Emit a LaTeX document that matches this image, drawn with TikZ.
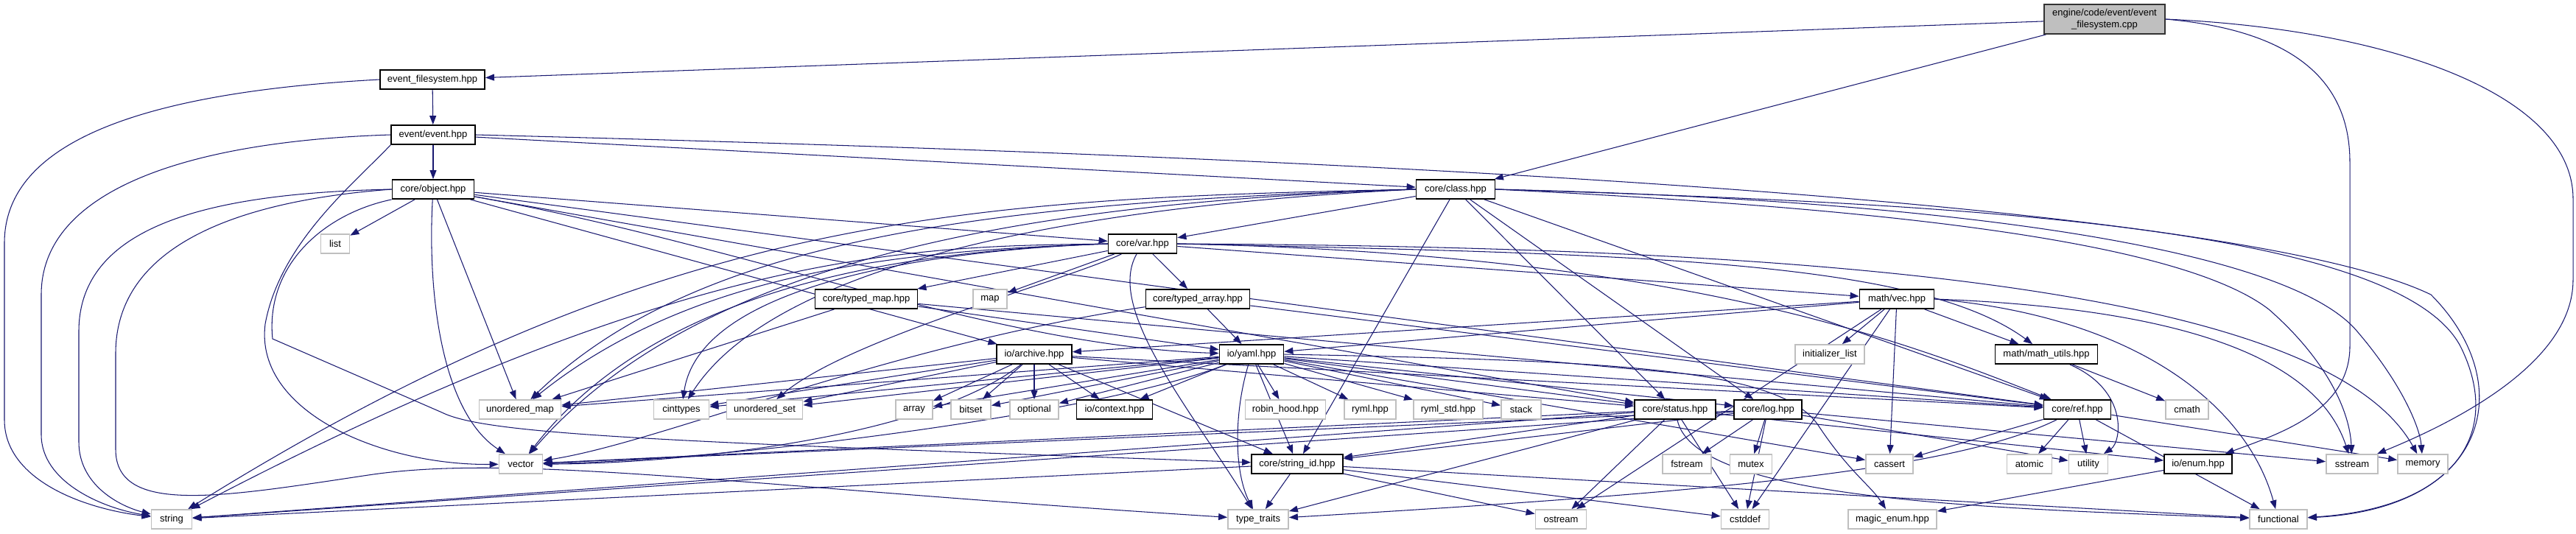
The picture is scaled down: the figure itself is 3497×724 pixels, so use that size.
\documentclass[tikz,border=0pt]{standalone}
\usepackage{fontspec}
\setmainfont{Liberation Sans}
\usetikzlibrary{arrows.meta}
\definecolor{edgeblue}{HTML}{191970}
\definecolor{sysgray}{HTML}{BFBFBF}
\pgfdeclarelayer{bg}
\pgfsetlayers{bg,main}
\begin{document}
\begin{tikzpicture}[x=1pt,y=-1pt,
  box/.style={fill=white, inner sep=0pt, minimum height=26pt, font=\fontsize{13}{15.5}\selectfont},
  proj/.style={box, draw=black, line width=1.8pt},
  sys/.style={box, draw=sysgray, line width=1.8pt},
  root/.style={box, draw=black!80, fill=sysgray, line width=1.8pt, minimum height=40pt, align=center},
  dep/.style={draw=edgeblue, line width=1.05pt, -{Triangle[length=12pt,width=9pt]}}]
\useasboundingbox (0,0) rectangle (3497,724);
% row 0
\node[root, minimum width=164pt] (cpp) at (2857,26) {engine/code/event/event\\\_filesystem.cpp};
% row 1-3
\node[proj, minimum width=142pt] (efs) at (587,108) {event\_filesystem.hpp};
\node[proj, minimum width=114pt] (event) at (588,183) {event/event.hpp};
\node[proj, minimum width=111pt] (object) at (588,257) {core/object.hpp};
\node[proj, minimum width=107pt] (class) at (1976,257) {core/class.hpp};
% row 4
\node[sys, minimum width=39pt] (list) at (455,331) {list};
\node[proj, minimum width=93pt] (var) at (1551,331) {core/var.hpp};
% row 5
\node[proj, minimum width=139pt] (tmap) at (1176,406) {core/typed\_map.hpp};
\node[sys, minimum width=46pt] (map) at (1344,406) {map};
\node[proj, minimum width=141pt] (tarr) at (1626,406) {core/typed\_array.hpp};
\node[proj, minimum width=101pt] (vec) at (2575,406) {math/vec.hpp};
% row 6
\node[proj, minimum width=102pt] (archive) at (1404,481) {io/archive.hpp};
\node[proj, minimum width=87pt] (yaml) at (1699,481) {io/yaml.hpp};
\node[sys, minimum width=94pt] (initlist) at (2484,481) {initializer\_list};
\node[proj, minimum width=139pt] (mathutils) at (2778,481) {math/math\_utils.hpp};
% row 7
\node[sys, minimum width=111pt] (umap) at (706,556) {unordered\_map};
\node[sys, minimum width=75pt] (cinttypes) at (925,556) {cinttypes};
\node[sys, minimum width=103pt] (uset) at (1038,556) {unordered\_set};
\node[sys, minimum width=50pt] (array) at (1241,556) {array};
\node[sys, minimum width=54pt] (bitset) at (1318,556) {bitset};
\node[sys, minimum width=66pt] (optional) at (1404,556) {optional};
\node[proj, minimum width=103pt] (context) at (1513,556) {io/context.hpp};
\node[sys, minimum width=109pt] (robin) at (1745,556) {robin\_hood.hpp};
\node[sys, minimum width=70pt] (ryml) at (1860,556) {ryml.hpp};
\node[sys, minimum width=94pt] (rymlstd) at (1966,556) {ryml\_std.hpp};
\node[sys, minimum width=54pt] (stack) at (2065,556) {stack};
\node[proj, minimum width=110pt] (status) at (2274,556) {core/status.hpp};
\node[proj, minimum width=92pt] (log) at (2400,556) {core/log.hpp};
\node[proj, minimum width=91pt] (ref) at (2820,556) {core/ref.hpp};
\node[sys, minimum width=58pt] (cmath) at (2969,556) {cmath};
% row 8
\node[sys, minimum width=59pt] (vector) at (707,630) {vector};
\node[proj, minimum width=124pt] (strid) at (1761,630) {core/string\_id.hpp};
\node[sys, minimum width=66pt] (fstream) at (2290,630) {fstream};
\node[sys, minimum width=57pt] (mutex) at (2377,630) {mutex};
\node[sys, minimum width=64pt] (cassert) at (2565,630) {cassert};
\node[sys, minimum width=61pt] (atomic) at (2755,630) {atomic};
\node[sys, minimum width=53pt] (utility) at (2835,630) {utility};
\node[proj, minimum width=92pt] (ioenum) at (2984,630) {io/enum.hpp};
\node[sys, minimum width=70pt] (sstream) at (3193,630) {sstream};
\node[sys, minimum width=68pt] (memory) at (3289,630) {memory};
% row 9
\node[sys, minimum width=55pt] (string) at (233,705) {string};
\node[sys, minimum width=82pt] (typetraits) at (1708,705) {type\_traits};
\node[sys, minimum width=69pt] (ostream) at (2119,705) {ostream};
\node[sys, minimum width=65pt] (cstddef) at (2369,705) {cstddef};
\node[sys, minimum width=120pt] (magic) at (2569,705) {magic\_enum.hpp};
\node[sys, minimum width=78pt] (functional) at (3093,705) {functional};

\begin{pgfonlayer}{bg}
% cpp
\draw[dep] (cpp) -- (efs);
\draw[dep] (cpp) -- (class);
\draw[dep] (cpp.east) .. controls (3100,40) and (3190,100) .. (3190,220) -- (3190,470) .. controls (3190,560) and (3090,590) .. (ioenum);
\draw[dep] (cpp.east) .. controls (3250,40) and (3493,130) .. (3493,270) -- (3493,380) .. controls (3493,490) and (3340,570) .. (sstream);
% efs
\draw[dep] (efs) -- (event);
\draw[dep] (efs.west) .. controls (200,125) and (6,190) .. (6,330) -- (6,570) .. controls (6,650) and (110,690) .. (string);
% event
\draw[dep] (event) -- (object);
\draw[dep] (event) -- (class);
\draw[dep] (event.west) .. controls (250,192) and (56,260) .. (56,400) -- (56,590) .. controls (56,655) and (140,690) .. (string);
\draw[dep] (event.south west) .. controls (480,250) and (380,330) .. (360,440) .. controls (345,560) and (520,632) .. (vector);
\draw[dep] (event.east) .. controls (1500,205) and (3000,255) .. (3300,400) .. controls (3420,520) and (3380,690) .. (functional);
% object
\draw[dep] (object) -- (list);
\draw[dep] (object.west) .. controls (300,262) and (107,300) .. (107,450) -- (107,600) .. controls (107,660) and (165,688) .. (string);
\draw[dep] (object.west) .. controls (330,272) and (157,330) .. (157,480) -- (157,610) .. controls (157,700) and (300,675) .. (500,645) .. controls (700,615) and (1000,660) .. (typetraits);
\draw[dep] (object) .. controls (580,400) and (600,560) .. (vector);
\draw[dep] (object) -- (umap);
\draw[dep] (object.south west) .. controls (440,290) and (360,360) .. (370,460) -- (600,560) .. controls (660,590) and (900,600) .. (strid);
\draw[dep] (object) -- (var);
\draw[dep] (object) -- (archive);
\draw[dep] (object) .. controls (1000,330) and (1350,470) .. (yaml);
\draw[dep] (object) -- (status);
\draw[dep] (object) -- (ref);
% class
\draw[dep] (class) -- (var);
\draw[dep] (class.west) .. controls (1300,270) and (900,290) .. (string);
\draw[dep] (class.west) .. controls (1350,275) and (950,320) .. (umap);
\draw[dep] (class.west) .. controls (1400,275) and (950,350) .. (vector);
\draw[dep] (class.west) .. controls (1450,280) and (1050,360) .. (cinttypes);
\draw[dep] (class) -- (status);
\draw[dep] (class) -- (log);
\draw[dep] (class) -- (ref);
\draw[dep] (class) -- (strid);
\draw[dep] (class.east) .. controls (2600,275) and (3250,300) .. (3340,470) .. controls (3400,590) and (3330,690) .. (functional);
\draw[dep] (class.east) .. controls (2600,270) and (3100,330) .. (3200,450) .. controls (3260,520) and (3285,580) .. (memory);
\draw[dep] (class.east) .. controls (2500,280) and (2950,320) .. (3080,420) .. controls (3160,490) and (3190,560) .. (sstream);
% var
\draw[dep] (var) -- (tmap);
\draw[dep] (var) -- (map);
\draw[dep] (var) -- (tarr);
\draw[dep] (var) -- (vec);
\draw[dep] (var.west) .. controls (1250,335) and (950,330) .. (string);
\draw[dep] (var.west) .. controls (1250,340) and (950,360) .. (umap);
\draw[dep] (var.west) .. controls (1250,340) and (900,380) .. (vector);
\draw[dep] (var.west) .. controls (1250,340) and (950,390) .. (cinttypes);
\draw[dep] (var) .. controls (1450,380) and (1150,460) .. (uset);
\draw[dep] (var) .. controls (1500,420) and (1620,560) .. (typetraits);
\draw[dep] (var.east) .. controls (2200,345) and (2600,350) .. (mathutils);
\draw[dep] (var.east) .. controls (2300,345) and (2600,470) .. (ref);
\draw[dep] (var.east) .. controls (2400,335) and (3150,380) .. (memory);
% typed map / array
\draw[dep] (tmap) -- (yaml);
\draw[dep] (tmap) -- (ref);
\draw[dep] (tmap) -- (umap);
\draw[dep] (tarr) -- (yaml);
\draw[dep] (tarr) -- (ref);
\draw[dep] (tarr) .. controls (1200,470) and (900,600) .. (vector);
% vec
\draw[dep] (vec) -- (initlist);
\draw[dep] (vec) -- (mathutils);
\draw[dep] (vec) -- (archive);
\draw[dep] (vec) -- (yaml);
\draw[dep] (vec) -- (cassert);
\draw[dep] (vec) -- (ostream);
\draw[dep] (vec) -- (cstddef);
\draw[dep] (vec.east) .. controls (2900,430) and (3050,550) .. (functional);
\draw[dep] (vec.east) .. controls (3000,420) and (3150,500) .. (sstream);
% math utils
\draw[dep] (mathutils) -- (cmath);
\draw[dep] (mathutils) .. controls (2890,530) and (2880,600) .. (utility);
% archive
\draw[dep] (archive) -- (umap);
\draw[dep] (archive) -- (cinttypes);
\draw[dep] (archive) -- (uset);
\draw[dep] (archive) -- (array);
\draw[dep] (archive) -- (bitset);
\draw[dep] (archive) -- (optional);
\draw[dep] (archive) -- (context);
\draw[dep] (archive) .. controls (1250,600) and (900,630) .. (vector);
\draw[dep] (archive) -- (strid);
\draw[dep] (archive) -- (status);
\draw[dep] (archive) -- (ref);
% yaml
\draw[dep] (yaml) -- (umap);
\draw[dep] (yaml) -- (cinttypes);
\draw[dep] (yaml) -- (uset);
\draw[dep] (yaml) -- (array);
\draw[dep] (yaml) -- (bitset);
\draw[dep] (yaml) -- (optional);
\draw[dep] (yaml) -- (context);
\draw[dep] (yaml) -- (robin);
\draw[dep] (yaml) -- (ryml);
\draw[dep] (yaml) -- (rymlstd);
\draw[dep] (yaml) -- (stack);
\draw[dep] (yaml) -- (status);
\draw[dep] (yaml) -- (log);
\draw[dep] (yaml) -- (ref);
\draw[dep] (yaml) .. controls (1500,560) and (1000,625) .. (vector);
\draw[dep] (yaml) -- (strid);
\draw[dep] (yaml) .. controls (1675,560) and (1675,640) .. (typetraits);
\draw[dep] (yaml.east) .. controls (2200,490) and (2420,500) .. (2470,580) .. controls (2510,640) and (2540,660) .. (magic);
\draw[dep] (yaml) -- (cassert);
% status
\draw[dep] (status) -- (strid);
\draw[dep] (status) -- (string);
\draw[dep] (status) -- (vector);
\draw[dep] (status) -- (ostream);
\draw[dep] (status) -- (cstddef);
\draw[dep] (status) -- (typetraits);
\draw[dep] (status) -- (ioenum);
\draw[dep] (status) .. controls (2300,680) and (2700,690) .. (functional);
% log
\draw[dep] (log) -- (fstream);
\draw[dep] (log) -- (mutex);
\draw[dep] (log) -- (cstddef);
\draw[dep] (log) -- (strid);
\draw[dep] (log) -- (string);
\draw[dep] (log) -- (vector);
\draw[dep] (log) -- (utility);
\draw[dep] (log) -- (sstream);
% string id
\draw[dep] (strid) -- (string);
\draw[dep] (strid) -- (typetraits);
\draw[dep] (strid) -- (ostream);
\draw[dep] (strid) -- (cstddef);
\draw[dep] (strid) -- (functional);
% ref
\draw[dep] (ref) -- (atomic);
\draw[dep] (ref) -- (utility);
\draw[dep] (ref) -- (cassert);
\draw[dep] (ref) -- (functional);
\draw[dep] (ref) -- (memory);
\draw[dep] (ref) .. controls (2650,640) and (2300,670) .. (typetraits);
% io enum
\draw[dep] (ioenum) -- (magic);
\end{pgfonlayer}
\end{tikzpicture}
\end{document}
